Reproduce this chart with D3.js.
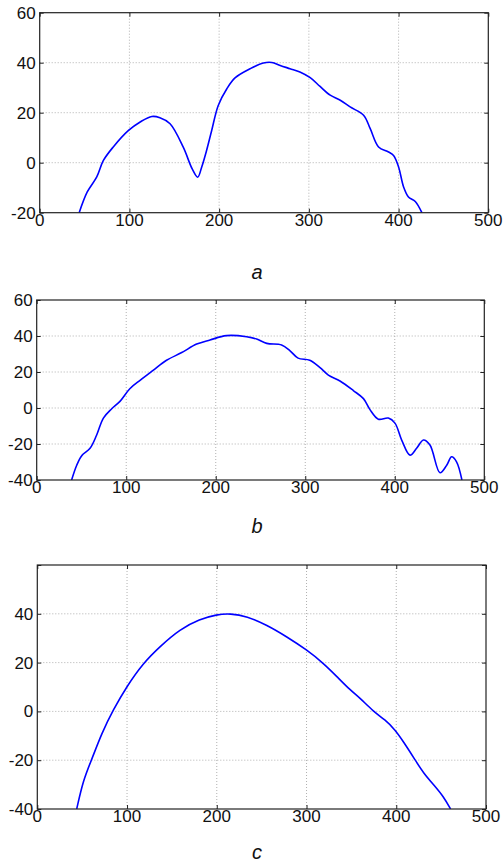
<!DOCTYPE html>
<html>
<head>
<meta charset="utf-8">
<script src="https://cdn.jsdelivr.net/npm/d3@7"></script>
<style>
    body { margin: 0; background: #fff; }
    svg { display: block; }
    .tick-label { font-family: "Liberation Sans", Arial, sans-serif; font-size: 17px; fill: #111; }
    .panel-label { font-family: "Liberation Sans", Arial, sans-serif; font-size: 20px; font-style: italic; fill: #111; }
</style>
</head>
<body>
<div id="chart"></div>
<script>

// x ticks shared by all panels
let xTicks = [0, 100, 200, 300, 400, 500];

// panel a
let aYTicks = [-20, 0, 20, 40, 60];
let aYLabels = ["-20", "0", "20", "40", "60"];
let aSeries = [
    [44, -20], [53, -11.7], [63.6, -5.7], [71, 0.9], [82, 6.3], [99, 12.9], [112, 16.3],
    [125, 18.5], [134, 18], [145.3, 15.6], [160, 6.2], [170, -2.5], [176.1, -5.8],
    [180.6, -1.7], [186, 4.9], [191.7, 12.9], [199, 22.9], [208.6, 29.6], [218, 34], [234.6, 37.6],
    [249.4, 39.9], [258.7, 40.1], [268, 38.9], [279, 37.6], [290, 36.3], [301.5, 34],
    [312.5, 30.5], [323.8, 27], [335, 25], [346, 22.3], [361, 19], [368.4, 13.6],
    [377.7, 6.3], [388.8, 4.3], [394.4, 2.9], [400, -1.7], [405.6, -9.7], [411, -13.7],
    [418.6, -15.5], [426, -20]
];

// panel b
let bYTicks = [-40, -20, 0, 20, 40, 60];
let bYLabels = ["-40", "-20", "0", "20", "40", "60"];
let bSeries = [
    [39, -40], [44.7, -31.8], [50.3, -26.5], [59.6, -22.4], [67, -15], [74.5, -5.6],
    [83.8, -0.4], [93, 3.7], [104, 10.7], [115.8, 15.5], [130, 20.9], [145, 26.5],
    [162, 30.8], [178.7, 35.5], [193.6, 37.8], [212, 40.2], [234.5, 39.6], [245.7, 38.3],
    [257, 35.9], [273.6, 35], [283, 31.8], [292, 27.7], [305, 26.5], [316.5, 22.4],
    [325.8, 18.3], [338.8, 15], [353.7, 9.7], [365, 5.2], [372.3, -0.9], [381.6, -6.2],
    [392.8, -5.6], [400.2, -8.4], [407.7, -17.8], [417, -26.2], [424.4, -22.4],
    [432, -17.8], [439.3, -20.6], [450.5, -36], [458, -31.8], [463.5, -27.1],
    [469, -29.9], [475, -40]
];

// panel c (60 has a grid line but no label)
let cYTicks = [-40, -20, 0, 20, 40, 60];
let cYLabels = ["-40", "-20", "0", "20", "40", ""];
let cSeries = [
    [43.9, -40], [51.3, -28], [60.6, -19.8], [71.8, -8.9], [84.7, 0.7], [99.6, 10.2],
    [118, 19.8], [136.7, 26.6], [159, 33.7], [181, 37.8], [200, 39.7], [215, 40.1],
    [233.5, 39], [255.8, 35.4], [278, 30.6], [300.4, 25.2], [319, 19.7], [333.8, 14.3],
    [348.7, 8.7], [359.6, 5.5], [374.4, 0], [387.5, -3.4], [398.6, -7.5], [407.8, -12.3],
    [420.9, -19.8], [430.1, -25.2], [443.2, -30.7], [452.4, -34.8], [460.5, -40]
];

let panels = [
    {id: "a", series: aSeries, yTicks: aYTicks, yLabels: aYLabels, yDomain: [-20, 60],
     box: {left: 39.7, top: 12.7, width: 448.6, height: 200}, labelY: 279,
     curve: d3.curveCatmullRom.alpha(0.5)},
    {id: "b", series: bSeries, yTicks: bYTicks, yLabels: bYLabels, yDomain: [-40, 60],
     box: {left: 36.7, top: 300, width: 447.6, height: 180}, labelY: 533,
     curve: d3.curveCatmullRom.alpha(0.5)},
    {id: "c", series: cSeries, yTicks: cYTicks, yLabels: cYLabels, yDomain: [-40, 60],
     box: {left: 37.3, top: 565, width: 448.7, height: 244}, labelY: 859,
     curve: d3.curveBasis}   // smooth curve, no wiggles
];

let svg = d3.select("#chart").append("svg")
    .attr("width", 504)
    .attr("height", 864);

panels.forEach(p => drawPanel(p));

function drawPanel(p) {
    let b = p.box;

    let x = d3.scaleLinear().domain([0, 500]).range([0, b.width]);
    let y = d3.scaleLinear().domain(p.yDomain).range([b.height, 0]);

    let g = svg.append("g")
        .attr("transform", `translate(${b.left}, ${b.top})`);

    // clip so the curve stops at the frame
    g.append("clipPath").attr("id", "clip-" + p.id)
        .append("rect").attr("width", b.width).attr("height", b.height);

    // dotted grid
    g.append("g").selectAll("line").data(xTicks.slice(1, -1)).enter().append("line")
        .attr("x1", d => x(d)).attr("x2", d => x(d))
        .attr("y1", 0).attr("y2", b.height)
        .attr("stroke", "#a8a8a8").attr("stroke-width", 0.9).attr("stroke-dasharray", "1,2");
    g.append("g").selectAll("line").data(p.yTicks.filter(d => d > p.yDomain[0] && d < p.yDomain[1])).enter().append("line")
        .attr("y1", d => y(d)).attr("y2", d => y(d))
        .attr("x1", 0).attr("x2", b.width)
        .attr("stroke", "#a8a8a8").attr("stroke-width", 0.9).attr("stroke-dasharray", "1,2");

    // inward ticks on all four sides
    let tickLen = 4;
    let bottomAxis = d3.axisBottom(x).tickValues(xTicks).tickSizeInner(-tickLen).tickSizeOuter(0).tickFormat("");
    let topAxis = d3.axisTop(x).tickValues(xTicks).tickSizeInner(-tickLen).tickSizeOuter(0).tickFormat("");
    let leftAxis = d3.axisLeft(y).tickValues(p.yTicks).tickSizeInner(-tickLen).tickSizeOuter(0).tickFormat("");
    let rightAxis = d3.axisRight(y).tickValues(p.yTicks).tickSizeInner(-tickLen).tickSizeOuter(0).tickFormat("");

    [
        g.append("g").attr("transform", `translate(0, ${b.height})`).call(bottomAxis),
        g.append("g").call(topAxis),
        g.append("g").call(leftAxis),
        g.append("g").attr("transform", `translate(${b.width}, 0)`).call(rightAxis)
    ].forEach(a => {
        a.select(".domain").remove();
        a.selectAll(".tick line").attr("stroke", "#222").attr("stroke-width", 1);
    });

    // curve
    let line = d3.line()
        .x(d => x(d[0]))
        .y(d => y(d[1]))
        .curve(p.curve);

    g.append("path")
        .datum(p.series)
        .attr("clip-path", `url(#clip-${p.id})`)
        .attr("d", line)
        .attr("fill", "none")
        .attr("stroke", "#0000ff")
        .attr("stroke-width", 1.6);

    // frame
    g.append("rect")
        .attr("width", b.width).attr("height", b.height)
        .attr("fill", "none").attr("stroke", "#222").attr("stroke-width", 1.2);

    // tick labels
    g.append("g").selectAll("text").data(xTicks).enter().append("text")
        .attr("class", "tick-label")
        .attr("x", d => x(d))
        .attr("y", b.height + 13)
        .attr("text-anchor", "middle")
        .text(d => d);

    g.append("g").selectAll("text").data(p.yTicks).enter().append("text")
        .attr("class", "tick-label")
        .attr("x", -4)
        .attr("y", d => y(d) + 6)
        .attr("text-anchor", "end")
        .text((d, i) => p.yLabels[i]);

    // panel letter
    svg.append("text")
        .attr("class", "panel-label")
        .attr("x", 257)
        .attr("y", p.labelY)
        .attr("text-anchor", "middle")
        .text(p.id);
}

</script>
</body>
</html>
